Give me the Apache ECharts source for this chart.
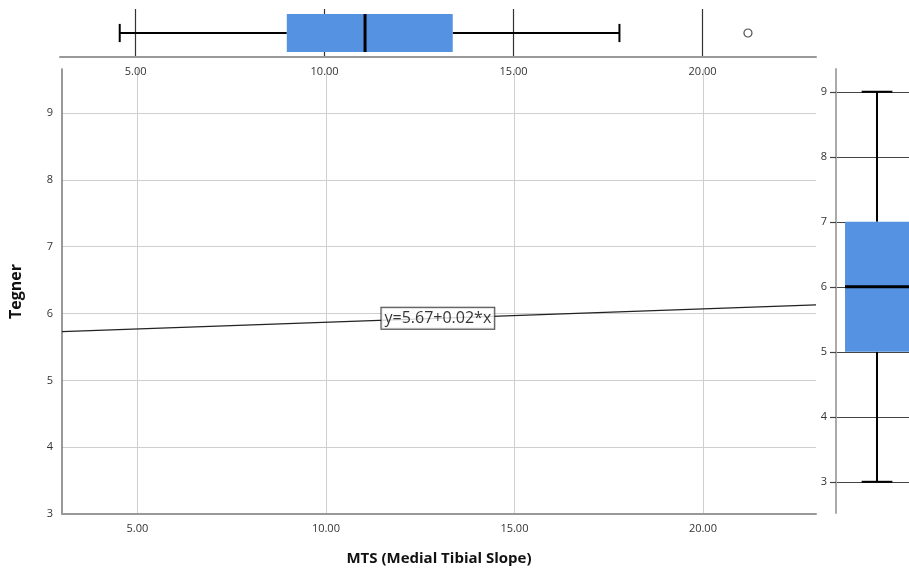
<!DOCTYPE html>
<html><head><meta charset="utf-8">
<script src="https://cdn.jsdelivr.net/npm/echarts@6/dist/echarts.min.js"></script>
<style>html,body{margin:0;padding:0;background:#fff}#c{width:909px;height:576px}</style>
</head><body><div id="c"></div>
<script>
// ---- data ----
const xTicks = [5, 10, 15, 20];
const yTicks = [3, 4, 5, 6, 7, 8, 9];
const mtsBox = [4.58, 9.0, 11.07, 13.39, 17.80];   // low whisker, Q1, median, Q3, high whisker
const mtsOutliers = [21.2];
const tegnerBox = [3, 5, 6, 7, 9];
const fitX = [3, 23];
const fitY = [5.73, 6.13];
const fitLabelPos = [12.97, 5.93];
const fitLabel = 'y=5.67+0.02*x';
const xTitle = 'MTS (Medial Tibial Slope)';
const yTitle = 'Tegner';

const FONT = '"Open Sans", "DejaVu Sans", sans-serif';
const BOX = '#5592E2';

// bwUnits: box thickness in axis units of the position axis
function boxRender(horizontal, bwUnits) {
  return function (params, api) {
    const v = [1,2,3,4,5].map(i => api.value(i));
    const pt = val => horizontal ? api.coord([val, 0]) : api.coord([0, val]);
    const unit = horizontal ? api.size([0, 1])[1] : api.size([1, 0])[0];
    const bw = unit * bwUnits, cap = bw * 0.48;
    const c = pt(v[0]);
    const ctr = horizontal ? c[1] : c[0];
    const p = v.map(val => horizontal ? pt(val)[0] : pt(val)[1]);
    const L = (a1, b1, a2, b2, w) => ({
      type: 'line',
      shape: horizontal ? {x1: a1, y1: b1, x2: a2, y2: b2} : {x1: b1, y1: a1, x2: b2, y2: a2},
      style: {stroke: '#000', lineWidth: w}
    });
    const lo = Math.min(p[1], p[3]), hi = Math.max(p[1], p[3]);
    const rect = horizontal
      ? {x: lo, y: ctr - bw / 2, width: hi - lo, height: bw}
      : {x: ctr - bw / 2, y: lo, width: bw, height: hi - lo};
    return {
      type: 'group',
      children: [
        L(p[0], ctr, p[1], ctr, 2),
        L(p[3], ctr, p[4], ctr, 2),
        L(p[0], ctr - cap / 2, p[0], ctr + cap / 2, 2),
        L(p[4], ctr - cap / 2, p[4], ctr + cap / 2, 2),
        {type: 'rect', shape: rect, style: {fill: BOX, stroke: null}},
        L(p[2], ctr - bw / 2, p[2], ctr + bw / 2, 3)
      ]
    };
  };
}

const chart = echarts.init(document.getElementById('c'), null, {renderer: 'canvas'});
const lbl = {color: '#333', fontFamily: FONT, fontSize: 11};

chart.setOption({
  animation: false,
  grid: [
    {left: 60, top: 69, width: 756, height: 445},
    {left: 60, top: 9, width: 756, height: 48},
    {left: 836, top: 69, width: 73, height: 444}
  ],
  xAxis: [
    {gridIndex: 0, type: 'value', min: 3, max: 23,
     name: xTitle, nameLocation: 'middle', nameGap: 37,
     nameTextStyle: {fontFamily: FONT, fontWeight: 'bold', fontSize: 15, color: '#111'},
     axisLine: {show: true, onZero: false, lineStyle: {color: '#999', width: 2}},
     axisTick: {show: false, customValues: xTicks},
     axisLabel: Object.assign({margin: 9, customValues: xTicks, formatter: v => v.toFixed(2)}, lbl),
     splitLine: {show: true, customValues: xTicks, lineStyle: {color: '#cfcfcf', width: 1}}},
    {gridIndex: 1, type: 'value', min: 3, max: 23,
     axisLine: {show: true, onZero: false, lineStyle: {color: '#999', width: 2}},
     axisTick: {show: false, customValues: xTicks},
     axisLabel: Object.assign({margin: 9, customValues: xTicks, formatter: v => v.toFixed(2)}, lbl),
     splitLine: {show: true, customValues: xTicks, lineStyle: {color: '#333', width: 1.2}}},
    {gridIndex: 2, type: 'value', min: -1, max: 0.78, show: false, splitLine: {show: false}}
  ],
  yAxis: [
    {gridIndex: 0, type: 'value', min: 3, max: 9.66,
     name: yTitle, nameLocation: 'middle', nameGap: 38, nameRotate: 90,
     nameTextStyle: {fontFamily: FONT, fontWeight: 'bold', fontSize: 16, color: '#111'},
     axisLine: {show: true, onZero: false, lineStyle: {color: '#777', width: 1.5}},
     axisTick: {show: false, customValues: yTicks},
     axisLabel: Object.assign({margin: 9, customValues: yTicks}, lbl),
     splitLine: {show: true, customValues: yTicks, lineStyle: {color: '#cfcfcf', width: 1}}},
    {gridIndex: 1, type: 'category', data: ['MTS'], show: false},
    {gridIndex: 2, type: 'value', min: 2.52, max: 9.35,
     axisLine: {show: true, onZero: false, lineStyle: {color: '#aaa', width: 2}},
     axisTick: {show: true, customValues: yTicks, length: 6, inside: false, lineStyle: {color: '#444', width: 1.2}},
     axisLabel: Object.assign({margin: 9, customValues: yTicks}, lbl),
     splitLine: {show: true, customValues: yTicks, lineStyle: {color: '#444', width: 1.2}}}
  ],
  series: [
    {type: 'line', xAxisIndex: 0, yAxisIndex: 0, symbol: 'none',
     data: fitX.map((x, i) => [x, fitY[i]]),
     lineStyle: {color: '#222', width: 1.2}, silent: true, z: 3},
    {type: 'scatter', xAxisIndex: 0, yAxisIndex: 0, symbolSize: 0,
     data: [fitLabelPos], z: 5,
     label: {show: true, position: 'inside', formatter: fitLabel, color: '#000',
       fontFamily: FONT, fontSize: 16, lineHeight: 20, backgroundColor: '#fff', borderColor: '#111', borderWidth: 1,
       padding: [1, 3, 0, 3]}},
    {type: 'custom', xAxisIndex: 1, yAxisIndex: 1, renderItem: boxRender(true, 0.79),
     encode: {y: 0, x: [1, 2, 3, 4, 5]}, data: [[0].concat(mtsBox)], z: 3},
    {type: 'scatter', xAxisIndex: 1, yAxisIndex: 1, symbol: 'circle', symbolSize: 8,
     itemStyle: {color: '#fff', borderColor: '#222', borderWidth: 1.2},
     data: mtsOutliers.map(v => [v, 0]), z: 4},
    {type: 'custom', xAxisIndex: 2, yAxisIndex: 2, renderItem: boxRender(false, 1.56),
     encode: {x: 0, y: [1, 2, 3, 4, 5]}, data: [[0].concat(tegnerBox)], z: 3}
  ]
});
</script></body></html>
